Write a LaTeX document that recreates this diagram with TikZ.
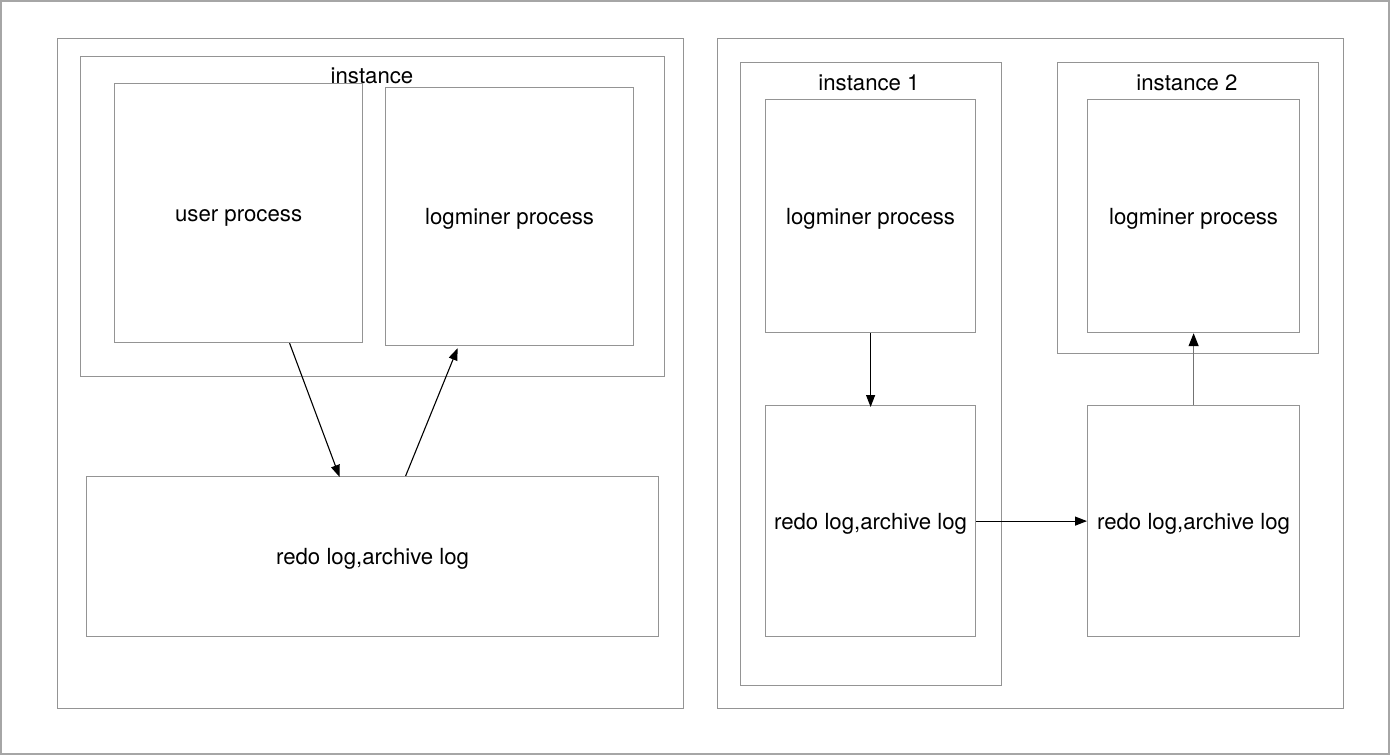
\documentclass[tikz,border=0pt]{standalone}
\usepackage{fontspec}
\setmainfont{TeX Gyre Heros}
\usetikzlibrary{arrows.meta,calc}
\tikzset{
  txt/.style={font=\fontsize{22.2}{26}\selectfont, text height=18pt, text depth=2pt},
  box/.style={draw=black!42, line width=1.2pt, inner sep=0pt, anchor=north west, txt},
  lbl/.style={inner sep=0pt, txt},
  arr/.style={draw=black, line width=1.1pt, -{Triangle[length=12pt,width=9pt]}},
  arrg/.style={draw=black!55, line width=1.3pt, -{Triangle[length=13pt,width=10pt,black]}},
}
\newcommand{\bx}[6]{\node[box, minimum width=#4-#2, minimum height=#5-#3] (#1) at (#2,#3) {#6};}
\begin{document}
\begin{tikzpicture}[x=1pt,y=-1pt]
\useasboundingbox (0,0) rectangle (1390,755);
\draw[black!35, line width=1.2pt] (1,1) rectangle (1389,754);
% left panel
\bx{panelL}{57}{38}{683}{708}{}
\bx{instL}{80}{56}{664}{376}{}
\node[lbl] (instLlbl) at (372,75.3) {instance};
\bx{userP}{114}{83}{362}{342}{user process}
\bx{logL}{385}{87}{633}{345}{logminer process}
\bx{redoL}{86}{476}{658}{636}{redo log,archive log}
\draw[arr] ([xshift=51pt]userP.south) -- ([xshift=-33pt,yshift=-1pt]redoL.north);
\draw[arr] ([xshift=33pt]redoL.north) -- ([xshift=-52pt,yshift=-2pt]logL.south);
% right panel
\bx{panelR}{717}{38}{1343}{708}{}
\bx{inst1}{740}{62}{1001}{685}{}
\node[lbl] (inst1lbl) at (869,82.5) {instance 1};
\bx{log1}{765}{99}{975}{332}{logminer process}
\bx{redo1}{765}{405}{975}{636}{redo log,archive log}
\bx{inst2}{1057}{62}{1318}{353}{}
\node[lbl] (inst2lbl) at (1187,82.5) {instance 2};
\bx{log2}{1087}{99}{1299}{332}{logminer process}
\bx{redo2}{1087}{405}{1299}{636}{redo log,archive log}
\draw[arr] (log1.south) -- ([yshift=-2pt]redo1.north);
\draw[arr] (redo1.east) -- (redo2.west);
\draw[arrg] (redo2.north) -- (log2.south);
\end{tikzpicture}
\end{document}
